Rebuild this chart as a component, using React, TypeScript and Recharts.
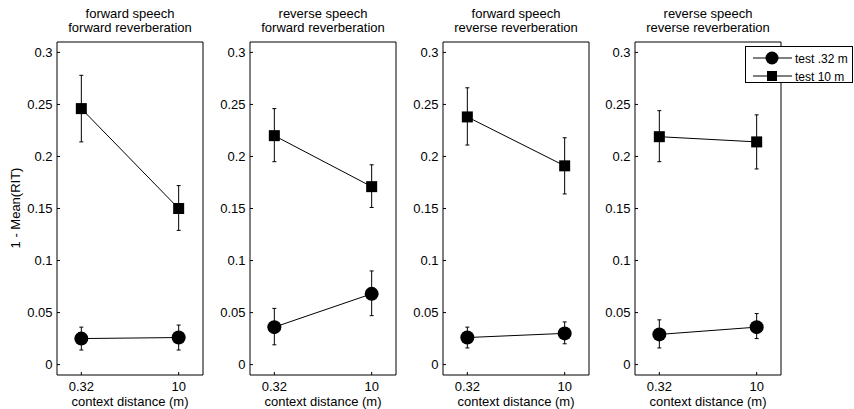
import React from 'react';
import { LineChart, Line, XAxis, YAxis, ErrorBar } from 'recharts';

const xTickLabels = ['0.32', '10'];
const yTicks = [0, 0.05, 0.1, 0.15, 0.2, 0.25, 0.3];
const yTickLabels = ['0', '0.05', '0.1', '0.15', '0.2', '0.25', '0.3'];
const titles = [
  ['forward speech', 'forward reverberation'],
  ['reverse speech', 'forward reverberation'],
  ['forward speech', 'reverse reverberation'],
  ['reverse speech', 'reverse reverberation'],
];
const seriesNames = ['test .32 m', 'test 10 m'];

// test .32 m (circles)
const nearMean = [[0.025, 0.026], [0.036, 0.068], [0.026, 0.030], [0.029, 0.036]];
const nearLow = [[0.014, 0.014], [0.019, 0.047], [0.016, 0.020], [0.016, 0.025]];
const nearHigh = [[0.036, 0.038], [0.054, 0.090], [0.036, 0.041], [0.043, 0.049]];
// test 10 m (squares)
const farMean = [[0.246, 0.150], [0.220, 0.171], [0.238, 0.191], [0.219, 0.214]];
const farLow = [[0.214, 0.129], [0.195, 0.151], [0.211, 0.164], [0.195, 0.188]];
const farHigh = [[0.278, 0.172], [0.246, 0.192], [0.266, 0.218], [0.244, 0.240]];

const FONT = '"Liberation Sans", Arial, Helvetica, sans-serif';
const plotLefts = [57, 250, 443, 635];
const PLOT_W = 146;
const Y_W = 40;

function buildData(p: number) {
  return [0, 1].map((i) => ({
    x: i,
    near: nearMean[p][i],
    nearErr: [nearMean[p][i] - nearLow[p][i], nearHigh[p][i] - nearMean[p][i]],
    far: farMean[p][i],
    farErr: [farMean[p][i] - farLow[p][i], farHigh[p][i] - farMean[p][i]],
  }));
}

const SquareDot = (props: any) => {
  const { cx, cy, index } = props;
  if (cx == null || cy == null) return <g key={`s${index}`} />;
  return <rect key={`s${index}`} x={cx - 5.5} y={cy - 5.5} width={11} height={11} fill="#000" />;
};

function Panel({ p }: { p: number }) {
  const data = buildData(p);
  return (
    <div style={{ position: 'absolute', left: plotLefts[p] - Y_W, top: 37 }}>
      <LineChart width={Y_W + PLOT_W + 5} height={368} data={data} margin={{ top: 0, right: 0, bottom: 0, left: 0 }}>
        <XAxis
          xAxisId="b"
          type="number"
          dataKey="x"
          domain={[-0.25, 1.25]}
          allowDataOverflow
          ticks={[0, 1]}
          tickFormatter={(v: number) => xTickLabels[v]}
          height={30}
          tickSize={-3}
          tickMargin={10}
          stroke="#000"
          tick={{ fill: '#000', fontSize: 13, fontFamily: FONT }}
        />
        <XAxis
          xAxisId="t"
          orientation="top"
          type="number"
          domain={[-0.25, 1.25]}
          allowDataOverflow
          ticks={[0, 1]}
          height={5}
          tickSize={-3}
          tick={false}
          stroke="#000"
        />
        <YAxis
          yAxisId="l"
          type="number"
          domain={[-0.01, 0.31]}
          allowDataOverflow
          ticks={yTicks}
          tickFormatter={(v: number) => yTickLabels[yTicks.findIndex((t) => Math.abs(t - v) < 1e-9)]}
          width={Y_W}
          tickSize={-3}
          tickMargin={7.5}
          stroke="#000"
          tick={{ fill: '#000', fontSize: 13, fontFamily: FONT }}
        />
        <YAxis
          yAxisId="r"
          orientation="right"
          type="number"
          domain={[-0.01, 0.31]}
          allowDataOverflow
          ticks={yTicks}
          width={5}
          tickSize={-3}
          tick={false}
          stroke="#000"
        />
        <Line
          xAxisId="b"
          yAxisId="l"
          dataKey="near"
          stroke="#000"
          strokeWidth={1}
          dot={{ r: 7, fill: '#000', stroke: '#000', strokeWidth: 0 }}
          activeDot={false}
          isAnimationActive={false}
        >
          <ErrorBar dataKey="nearErr" direction="y" width={2} stroke="#000" strokeWidth={1} isAnimationActive={false} />
        </Line>
        <Line
          xAxisId="b"
          yAxisId="l"
          dataKey="far"
          stroke="#000"
          strokeWidth={1}
          dot={SquareDot}
          activeDot={false}
          isAnimationActive={false}
        >
          <ErrorBar dataKey="farErr" direction="y" width={2} stroke="#000" strokeWidth={1} isAnimationActive={false} />
        </Line>
      </LineChart>
    </div>
  );
}

export default function App() {
  return (
    <div style={{ position: 'absolute', left: 0, top: 0, width: 854, height: 409, background: '#fff', overflow: 'hidden' }}>
      {[0, 1, 2, 3].map((p) => (
        <Panel key={p} p={p} />
      ))}
      <svg width={854} height={409} style={{ position: 'absolute', left: 0, top: 0 }} fontFamily={FONT}>
        {titles.map((t, p) => (
          <g key={p}>
            <text x={plotLefts[p] + PLOT_W / 2} y={18.3} textAnchor="middle" fontSize={13} fill="#000">{t[0]}</text>
            <text x={plotLefts[p] + PLOT_W / 2} y={31.7} textAnchor="middle" fontSize={13} fill="#000">{t[1]}</text>
            <text x={plotLefts[p] + PLOT_W / 2} y={405.5} textAnchor="middle" fontSize={13} fill="#000">context distance (m)</text>
          </g>
        ))}
        <text x={20} y={208} transform="rotate(-90, 20, 208)" textAnchor="middle" fontSize={13} fill="#000">1 - Mean(RIT)</text>
        <g>
          <rect x={745.5} y={46.5} width={107} height={36} fill="#fff" stroke="#000" strokeWidth={1} />
          <line x1={753} x2={792} y1={58} y2={58} stroke="#000" strokeWidth={1} />
          <circle cx={772} cy={58} r={6.5} fill="#000" />
          <text x={795} y={62.5} fontSize={12} fill="#000">{seriesNames[0]}</text>
          <line x1={753} x2={792} y1={76} y2={76} stroke="#000" strokeWidth={1} />
          <rect x={767} y={71} width={10} height={10} fill="#000" />
          <text x={795} y={80.5} fontSize={12} fill="#000">{seriesNames[1]}</text>
        </g>
      </svg>
    </div>
  );
}
